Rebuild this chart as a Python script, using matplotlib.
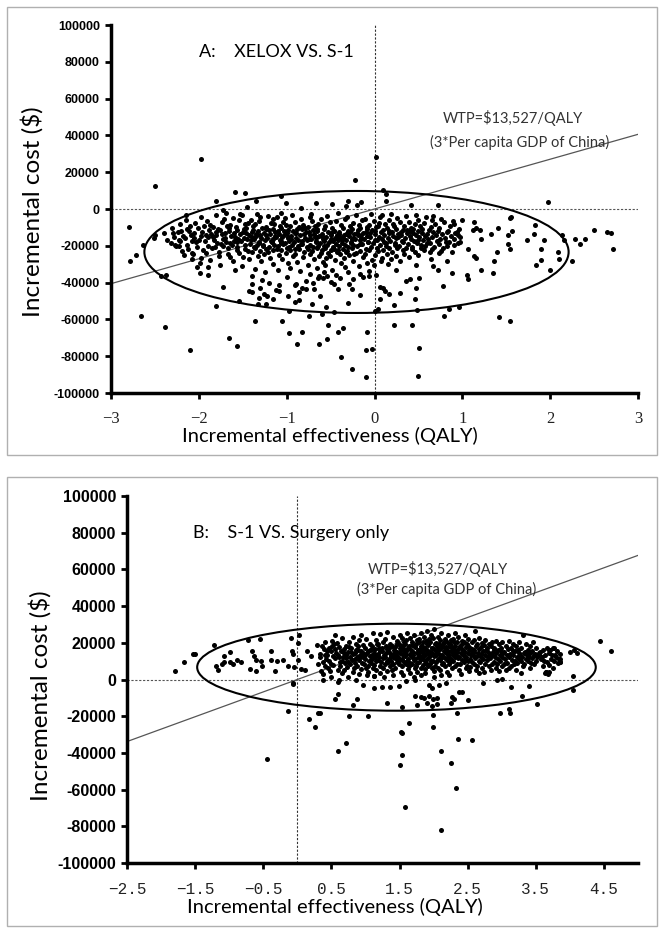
import numpy as np
import matplotlib
matplotlib.use("Agg")
import matplotlib.pyplot as plt
from matplotlib.patches import Ellipse, Rectangle

# ---------------- data (effect in QALY, cost in thousand $) ----------------
WTP = 13527

# panel A: XELOX vs S-1
a_eff = [
    # outliers / sparse points
    -2.50, -0.22, 0.10, 0.13, -1.59, -1.47, 1.97, -1.97, 0.02,
    -2.80, -2.78, -2.72, -2.64, -2.66, -2.38, -2.10, -2.43, -2.37, -1.81,
    -1.66, -1.56, -1.36, -1.05, -0.97, -0.88, -0.83, -0.63, -0.54, -0.53,
    -0.41, -0.36, -0.38, -0.26, -0.10, -0.09, -0.10, -0.03, 0.22, 0.43,
    0.51, 0.49, 0.79, 0.85, 0.96, 1.42, 1.54,
    2.50, 2.65, 2.69, 2.72, 2.40, 2.34, 2.28, 2.25, 2.14, 2.16, 2.09, 2.10,
    2.00, 1.90, 1.89, 1.93, 1.84, 1.82, 1.74, 1.83, 1.54, 1.55, 1.57, 1.52,
    1.52, 1.54, 1.39, 1.36, 1.35, 1.41, 1.33, 1.21, 1.21, 1.20, 1.16, 1.13,
    1.12, 1.13, 1.16, 1.06, 1.05, 1.06, 0.97, 0.95, 0.90, 1.00, 0.88, 0.78,
    0.72, 0.67,
    0.72, 0.42, 0.67, 0.47, 0.13, -0.15, -0.30, -0.48, -0.67, -1.01, -1.07,
    -1.35, -1.80, -2.15, -1.73,
    0.06, 0.10, 0.17, 0.06, 0.04, 0.01, 0.22, 0.29, 0.36, 0.40, 0.46, 0.47,
    0.51, 0.48, -0.17, -0.30, -0.46, -0.55, -0.71, -0.75, -0.60, -0.97, -0.91,
    -0.86, -0.98, -1.16, -1.22, -1.33, -1.31, -1.24, -1.43, -1.40, -1.39,
    -1.30, -1.54, -1.72, -1.09, -1.09, -0.89, -0.82, -0.78, -0.69, -0.63,
    -0.59, -0.46, -0.39, -0.29, -0.26, -0.13, -0.06, -1.99, -1.90, -2.02,
    -2.08, -2.08, -2.23, -2.27, -2.40, -2.51, -2.50, -2.36,
    # dense core, column by column
    -2.31, -2.28, -2.32, -2.29,
    -2.24, -2.26, -2.23,
    -2.21, -2.18, -2.22, -2.19, -2.20,
    -2.14, -2.16, -2.13, -2.17, -2.15,
    -2.11, -2.08, -2.12, -2.09, -2.10,
    -2.04, -2.06, -2.03, -2.07, -2.05,
    -2.01, -1.98, -2.02, -1.99, -2.00, -1.97,
    -1.94, -1.96, -1.93, -1.95, -1.97, -1.92,
    -1.91, -1.88, -1.90, -1.89, -1.92, -1.87, -1.90,
    -1.84, -1.86, -1.83, -1.85, -1.87, -1.84,
    -1.81, -1.78, -1.80, -1.79, -1.82, -1.77, -1.80,
    -1.74, -1.76, -1.73, -1.75, -1.77, -1.74, -1.76,
    -1.71, -1.68, -1.70, -1.69, -1.72, -1.67, -1.70, -1.69,
    -1.64, -1.66, -1.63, -1.65, -1.67, -1.64, -1.66,
    -1.61, -1.58, -1.60, -1.59, -1.62, -1.57, -1.60, -1.61, -1.59,
    -1.54, -1.56, -1.53, -1.55, -1.57, -1.54, -1.56, -1.53,
    -1.51, -1.48, -1.50, -1.49, -1.52, -1.47, -1.50, -1.51, -1.49,
    -1.44, -1.46, -1.43, -1.45, -1.47, -1.44, -1.46, -1.43, -1.45,
    -1.41, -1.38, -1.40, -1.39, -1.42, -1.37, -1.40, -1.41, -1.39, -1.38,
    -1.34, -1.36, -1.33, -1.35, -1.37, -1.34, -1.36, -1.33, -1.35, -1.36,
    -1.31, -1.28, -1.30, -1.29, -1.32, -1.27, -1.30, -1.31, -1.29, -1.28, -1.30,
    -1.24, -1.26, -1.23, -1.25, -1.27, -1.24, -1.26, -1.23, -1.25, -1.26,
    -1.21, -1.18, -1.20, -1.19, -1.22, -1.17, -1.20, -1.21, -1.19, -1.18, -1.20,
    -1.14, -1.16, -1.13, -1.15, -1.17, -1.14, -1.16, -1.13, -1.15, -1.16,
    -1.11, -1.08, -1.10, -1.09, -1.12, -1.07, -1.10, -1.11, -1.09, -1.08, -1.10, -1.12,
    -1.04, -1.06, -1.03, -1.05, -1.07, -1.04, -1.06, -1.03, -1.05, -1.06,
    -1.01, -0.98, -1.00, -0.99, -1.02, -0.97, -1.00, -1.01, -0.99, -0.98, -1.00, -1.02,
    -0.94, -0.96, -0.93, -0.95, -0.97, -0.94, -0.96, -0.93, -0.95, -0.96,
    -0.91, -0.88, -0.90, -0.89, -0.92, -0.87, -0.90, -0.91, -0.89, -0.88, -0.90,
    -0.84, -0.86, -0.83, -0.85, -0.87, -0.84, -0.86, -0.83, -0.85, -0.86, -0.84,
    -0.81, -0.78, -0.80, -0.79, -0.82, -0.77, -0.80, -0.81, -0.79, -0.78,
    -0.74, -0.76, -0.73, -0.75, -0.77, -0.74, -0.76, -0.73, -0.75, -0.76, -0.74,
    -0.71, -0.68, -0.70, -0.69, -0.72, -0.67, -0.70, -0.71, -0.69, -0.68, -0.70, -0.72,
    -0.64, -0.66, -0.63, -0.65, -0.67, -0.64, -0.66, -0.63, -0.65, -0.66, -0.64,
    -0.61, -0.58, -0.60, -0.59, -0.62, -0.57, -0.60, -0.61, -0.59, -0.58, -0.60, -0.62,
    -0.54, -0.56, -0.53, -0.55, -0.57, -0.54, -0.56, -0.53, -0.55, -0.56, -0.54, -0.57,
    -0.51, -0.48, -0.50, -0.49, -0.52, -0.47, -0.50, -0.51, -0.49, -0.48, -0.50,
    -0.44, -0.46, -0.43, -0.45, -0.47, -0.44, -0.46, -0.43, -0.45, -0.46, -0.44,
    -0.41, -0.38, -0.40, -0.39, -0.42, -0.37, -0.40, -0.41, -0.39, -0.38, -0.40, -0.42,
    -0.34, -0.36, -0.33, -0.35, -0.37, -0.34, -0.36, -0.33, -0.35, -0.36, -0.34,
    -0.31, -0.28, -0.30, -0.29, -0.32, -0.27, -0.30, -0.31, -0.29, -0.28, -0.30, -0.32,
    -0.24, -0.26, -0.23, -0.25, -0.27, -0.24, -0.26, -0.23, -0.25, -0.26, -0.24,
    -0.21, -0.18, -0.20, -0.19, -0.22, -0.17, -0.20, -0.21, -0.19, -0.18, -0.20,
    -0.14, -0.16, -0.13, -0.15, -0.17, -0.14, -0.16, -0.13, -0.15, -0.16,
    -0.11, -0.08, -0.10, -0.09, -0.12, -0.07, -0.10, -0.11, -0.09, -0.08,
    -0.04, -0.06, -0.03, -0.05, -0.07, -0.04, -0.06, -0.03, -0.05, -0.06,
    -0.01, 0.02, 0.00, 0.01, -0.02, 0.03, 0.00, -0.01, 0.01, 0.02,
    0.06, 0.04, 0.07, 0.05, 0.03, 0.06, 0.04, 0.07, 0.05,
    0.09, 0.12, 0.10, 0.11, 0.08, 0.13, 0.10, 0.09, 0.11, 0.12,
    0.16, 0.14, 0.17, 0.15, 0.13, 0.16, 0.14, 0.17, 0.15,
    0.19, 0.22, 0.20, 0.21, 0.18, 0.23, 0.20, 0.19, 0.21,
    0.26, 0.24, 0.27, 0.25, 0.23, 0.26, 0.24, 0.27, 0.25,
    0.29, 0.32, 0.30, 0.31, 0.28, 0.33, 0.30, 0.29,
    0.36, 0.34, 0.37, 0.35, 0.33, 0.36, 0.34, 0.37,
    0.39, 0.42, 0.40, 0.41, 0.38, 0.43, 0.40, 0.39,
    0.46, 0.44, 0.47, 0.45, 0.43, 0.46, 0.44, 0.47,
    0.49, 0.52, 0.50, 0.51, 0.48, 0.53, 0.50, 0.49,
    0.56, 0.54, 0.57, 0.55, 0.53, 0.56, 0.54,
    0.59, 0.62, 0.60, 0.61, 0.58, 0.63, 0.60,
    0.66, 0.64, 0.67, 0.65, 0.63, 0.66, 0.64,
    0.69, 0.72, 0.70, 0.71, 0.68, 0.73,
    0.76, 0.74, 0.77, 0.75, 0.73, 0.76,
    0.79, 0.82, 0.80, 0.81, 0.78, 0.83,
    0.86, 0.84, 0.87, 0.85, 0.83,
    0.89, 0.92, 0.90, 0.91, 0.88,
    0.96, 0.94, 0.97, 0.95,
]
a_cost_k = [
    12.3, 15.9, 10.1, 8.3, 9.0, 8.7, 3.8, 27.2, 28.1,
    -9.6, -28.3, -25.1, -19.3, -57.9, -64.4, -76.7, -36.6, -35.6, -52.5,
    -70.0, -74.4, -60.8, -60.8, -67.3, -73.3, -67.0, -73.6, -70.4, -62.8,
    -66.8, -64.8, -80.7, -86.8, -91.3, -66.6, -76.4, -76.2, -63.2, -63.2,
    -75.5, -91.0, -57.9, -54.2, -53.4, -58.7, -60.8,
    -11.6, -12.5, -13.2, -21.5, -16.4, -18.8, -16.1, -28.3, -14.3, -16.8, -23.3, -27.1,
    -32.9, -27.8, -21.8, -17.1, -30.5, -13.5, -17.0, -8.8, -5.1, -4.5, -11.7, -14.3,
    -18.8, -22.0, -23.3, -28.3, -34.8, -10.3, -13.5, -32.9, -16.1, -11.6, -10.3, -7.2,
    -11.6, -25.6, -26.9, -21.5, -35.6, -38.3, -18.1, -14.3, -8.1, -5.8, -34.7, -41.9,
    -32.9, -31.0,
    2.3, 2.3, -4.0, -3.1, 4.2, 3.8, 4.5, 2.9, 3.2, 3.2, 7.2,
    4.5, 4.2, -3.1, -0.4,
    -42.4, -42.8, -46.4, -49.1, -54.5, -55.4, -52.2, -45.5, -39.2, -38.3, -49.1, -42.8,
    -37.7, -55.1, -46.9, -51.3, -56.0, -53.2, -51.8, -58.3, -57.2, -55.4, -50.5,
    -49.6, -47.3, -49.1, -47.3, -51.8, -48.2, -51.8, -44.6, -44.9, -41.0,
    -42.8, -50.0, -42.2, -41.3, -44.6, -41.0, -42.8, -43.3, -43.7, -36.5,
    -37.7, -40.6, -37.7, -41.0, -43.7, -37.0, -36.5, -34.7, -35.6, -31.6,
    -27.4, -23.8, -20.2, -19.3, -13.0, -15.7, -14.3, -17.0,
    # dense core
    -10.4, -15.2, -18.7, -13.1,
    -12.6, -20.3, -16.8,
    -8.3, -14.5, -17.2, -22.6, -11.9,
    -10.7, -15.9, -19.4, -25.2, -6.1,
    -12.2, -17.6, -21.8, -14.0, -9.5,
    -7.8, -13.3, -18.1, -24.5, -15.6,
    -10.1, -14.8, -20.6, -29.3, -16.9, -4.2,
    -9.4, -12.7, -17.5, -22.1, -26.8, -14.3,
    -6.6, -11.2, -15.4, -19.9, -24.0, -8.7, -31.3,
    -9.9, -13.6, -17.0, -21.4, -27.7, -15.1,
    -3.5, -10.8, -14.2, -18.3, -20.9, -25.6, -12.4,
    -7.2, -11.6, -16.3, -19.1, -23.4, -13.8, -30.2,
    -5.3, -9.1, -13.0, -17.8, -20.2, -24.7, -15.5, -2.4,
    -8.6, -12.1, -14.9, -18.5, -21.1, -26.3, -10.2,
    -4.7, -9.8, -12.9, -15.0, -19.6, -22.3, -17.4, -28.5, -33.1,
    -6.2, -11.4, -13.7, -16.5, -20.8, -24.1, -18.2, -2.9,
    -3.1, -8.4, -12.3, -15.7, -17.3, -21.5, -25.9, -30.8, -10.6,
    -7.5, -10.3, -14.4, -16.1, -19.7, -22.8, -13.2, -27.4, 1.2,
    -5.8, -9.2, -12.5, -15.3, -18.9, -20.4, -23.6, -17.1, -36.2, -11.3,
    -2.6, -8.1, -11.7, -14.6, -16.4, -19.3, -21.2, -25.4, -13.5, -32.7,
    -6.4, -10.5, -13.9, -15.6, -17.7, -20.1, -22.9, -18.6, -28.2, -38.4, -4.3,
    -9.6, -12.8, -14.1, -16.7, -19.5, -21.6, -24.3, -11.1, -34.5, -46.2,
    -3.8, -7.4, -11.5, -13.4, -15.8, -18.0, -20.7, -23.2, -26.6, -17.5, -40.3,
    -8.2, -10.9, -14.7, -16.2, -17.9, -19.8, -22.4, -12.6, -30.1, -5.6,
    -4.5, -9.3, -12.0, -13.6, -15.1, -18.4, -20.0, -21.7, -24.8, -16.6, -33.4, -44.1,
    -6.9, -10.2, -14.3, -15.4, -17.2, -19.0, -22.5, -11.8, -27.3, -2.2,
    -8.8, -11.3, -13.2, -16.0, -18.6, -20.5, -21.3, -23.9, -15.2, -29.6, -36.8, -5.1,
    -3.3, -9.0, -12.2, -14.5, -17.4, -19.6, -22.2, -25.5, -16.3, -31.9,
    -7.1, -10.6, -13.3, -15.5, -18.2, -20.3, -21.9, -24.6, -12.9, -28.7, -41.5,
    -5.4, -9.7, -11.0, -14.0, -16.8, -19.2, -22.0, -17.6, -33.8, -45.3, 0.4,
    -8.5, -12.4, -13.8, -15.9, -18.8, -20.6, -23.3, -26.2, -10.4, -38.9,
    -4.1, -10.0, -14.2, -16.4, -17.1, -19.4, -21.5, -24.2, -12.3, -30.4, -35.1,
    -6.7, -9.4, -11.6, -13.5, -16.2, -18.1, -20.8, -22.7, -27.1, -15.3, -40.2, -2.7,
    -8.0, -12.2, -14.6, -15.2, -17.6, -19.9, -21.1, -25.8, -10.7, -32.3, -37.4,
    -5.2, -11.1, -13.6, -16.3, -18.3, -20.2, -22.4, -23.8, -28.6, -34.2, -14.8, -47.5,
    -3.6, -9.5, -12.7, -15.1, -17.5, -19.5, -21.4, -24.0, -26.9, -30.6, -36.3, -16.4,
    -7.3, -10.1, -13.1, -16.1, -18.0, -20.9, -22.2, -25.3, -14.4, -33.0, -39.6,
    -6.3, -11.7, -14.0, -15.8, -17.3, -19.1, -21.6, -23.5, -27.6, -12.1, -35.7,
    -2.3, -8.6, -12.5, -15.4, -16.6, -18.7, -20.3, -22.1, -24.4, -29.2, -13.7, -43.4,
    -5.7, -10.4, -13.4, -14.3, -17.0, -19.7, -21.8, -23.1, -26.5, -16.0, -31.5,
    -4.6, -9.1, -11.9, -14.8, -16.9, -18.5, -20.4, -22.6, -25.1, -12.7, -34.0, 1.5,
    -7.7, -10.8, -13.6, -15.5, -17.8, -19.3, -21.0, -24.7, -28.3, -16.2, -38.0,
    -3.0, -8.9, -12.8, -14.2, -16.5, -18.9, -20.2, -23.7, -11.4, -31.2, 2.1,
    -6.0, -10.3, -13.0, -15.6, -17.0, -19.2, -22.8, -26.1, -14.1, -35.4,
    -5.5, -9.6, -12.3, -14.9, -16.4, -18.2, -21.5, -24.3, -29.5, -11.0,
    -2.5, -8.7, -11.2, -15.3, -17.7, -20.4, -22.3, -27.5, -13.3, -33.6,
    -6.5, -10.0, -13.8, -16.6, -18.4, -21.2, -25.0, -30.3, -12.0, -36.1,
    -4.4, -9.3, -12.6, -15.2, -17.1, -19.5, -23.0, -28.0, -7.6,
    -3.4, -8.2, -11.5, -14.4, -16.3, -20.0, -22.1, -26.4, -18.1, -44.3,
    -6.1, -10.5, -13.2, -15.7, -18.6, -21.4, -24.2, -12.2, -30.0,
    -2.8, -9.0, -12.4, -14.6, -17.2, -19.8, -23.1, -27.2, -8.3,
    -5.0, -10.7, -13.5, -16.0, -18.5, -21.0, -25.3, -15.1, -33.2,
    -7.0, -11.4, -14.3, -17.4, -20.1, -22.5, -12.5, -28.4,
    -4.0, -9.4, -13.1, -15.8, -18.0, -21.3, -24.5, -11.6,
    -6.8, -10.2, -12.1, -16.2, -19.0, -22.0, -14.5, -26.0,
    -8.4, -11.0, -14.1, -17.5, -20.5, -23.4, -13.0, -30.5,
    -5.9, -9.2, -12.0, -15.0, -18.3, -21.1, -16.8, -25.2,
    -7.4, -10.6, -14.5, -17.1, -19.4, -22.2, -12.8,
    -4.3, -11.5, -13.4, -16.5, -20.2, -23.3, -18.4,
    -6.2, -9.8, -12.6, -15.4, -18.7, -21.5, -27.0,
    -8.1, -11.8, -14.0, -17.6, -20.7, -24.1,
    -5.6, -10.4, -13.7, -16.3, -19.2, -22.6,
    -7.2, -12.3, -15.6, -18.1, -21.2, -28.1,
    -9.1, -11.7, -14.8, -17.9, -20.3,
    -6.4, -13.2, -16.4, -19.5, -23.2,
    -10.8, -12.5, -15.3, -18.6,
]

# panel B: S-1 vs surgery only
b_eff = [
    # sparse points below / around zero
    -0.14, -0.45, -0.06, 0.17, 0.26, 0.31, 0.34, 0.60, 0.71, 0.76, 1.04, 0.56,
    0.59, 0.81, 0.87, 1.31, 1.54, 1.52, 1.53, 1.53, 1.50, 1.58, 1.64, 1.99,
    1.99, 2.11, 2.25, 2.33, 2.11, 2.36, 2.57, 2.34, 2.98, 3.10, 3.12, 3.52,
    3.30, 3.13, 3.40, 4.05, 4.05, 1.76, 1.90, 1.98, 2.05, 1.81, 1.86, 1.93,
    1.99, 2.05, 1.93, 1.97, 2.08, 2.25, 2.27, 2.30, 2.38, 2.42, 2.50, 1.73,
    1.72, 1.49, 1.36, 1.24, 1.13, 0.96, 0.86, 0.61, 0.38, 1.12, 1.59, 2.18,
    2.73, 2.93, 3.01, 3.63, 3.70,
    # far right
    4.44, 4.61, 4.06, 4.11, 4.00, 3.85, 3.86, 3.70, 3.75, 3.78, 3.65,
    # left wing
    -1.80, -1.67, -1.53, -1.50, -1.23, -1.19, -1.17, -1.11, -1.08, -0.99, -0.99,
    -1.08, -0.95, -0.89, -0.83, -0.72, -0.67, -0.70, -0.64, -0.61, -0.55, -0.60,
    -0.52, -0.54, -0.39, -0.39, -0.33, -0.30, -0.21, -0.14, -0.09, -0.08, -0.06,
    -0.05, -0.06, 0.03, 0.01, 0.01, 0.06, 0.11, 0.14, 0.20, 0.29, 0.31,
    # dense core
    0.36, 0.34, 0.37, 0.35, 0.33,
    0.41, 0.39, 0.42, 0.40, 0.38, 0.41,
    0.46, 0.44, 0.47, 0.45, 0.43,
    0.51, 0.49, 0.52, 0.50, 0.48, 0.51, 0.49,
    0.56, 0.54, 0.57, 0.55, 0.53, 0.56,
    0.61, 0.59, 0.62, 0.60, 0.58, 0.61, 0.59,
    0.66, 0.64, 0.67, 0.65, 0.63, 0.66,
    0.71, 0.69, 0.72, 0.70, 0.68, 0.71, 0.69,
    0.76, 0.74, 0.77, 0.75, 0.73, 0.76, 0.74,
    0.81, 0.79, 0.82, 0.80, 0.78, 0.81, 0.79,
    0.86, 0.84, 0.87, 0.85, 0.83, 0.86, 0.84,
    0.91, 0.89, 0.92, 0.90, 0.88, 0.91, 0.89, 0.92,
    0.96, 0.94, 0.97, 0.95, 0.93, 0.96, 0.94,
    1.01, 0.99, 1.02, 1.00, 0.98, 1.01, 0.99, 1.02,
    1.06, 1.04, 1.07, 1.05, 1.03, 1.06, 1.04,
    1.11, 1.09, 1.12, 1.10, 1.08, 1.11, 1.09, 1.12, 1.10,
    1.16, 1.14, 1.17, 1.15, 1.13, 1.16, 1.14, 1.17,
    1.21, 1.19, 1.22, 1.20, 1.18, 1.21, 1.19, 1.22, 1.20,
    1.26, 1.24, 1.27, 1.25, 1.23, 1.26, 1.24, 1.27,
    1.31, 1.29, 1.32, 1.30, 1.28, 1.31, 1.29, 1.32, 1.30,
    1.36, 1.34, 1.37, 1.35, 1.33, 1.36, 1.34, 1.37,
    1.41, 1.39, 1.42, 1.40, 1.38, 1.41, 1.39, 1.42, 1.40,
    1.46, 1.44, 1.47, 1.45, 1.43, 1.46, 1.44, 1.47, 1.45,
    1.51, 1.49, 1.52, 1.50, 1.48, 1.51, 1.49, 1.52, 1.50, 1.48,
    1.56, 1.54, 1.57, 1.55, 1.53, 1.56, 1.54, 1.57, 1.55, 1.53,
    1.61, 1.59, 1.62, 1.60, 1.58, 1.61, 1.59, 1.62, 1.60, 1.58,
    1.66, 1.64, 1.67, 1.65, 1.63, 1.66, 1.64, 1.67, 1.65,
    1.71, 1.69, 1.72, 1.70, 1.68, 1.71, 1.69, 1.72, 1.70, 1.68, 1.71,
    1.76, 1.74, 1.77, 1.75, 1.73, 1.76, 1.74, 1.77, 1.75,
    1.81, 1.79, 1.82, 1.80, 1.78, 1.81, 1.79, 1.82, 1.80, 1.78, 1.81,
    1.86, 1.84, 1.87, 1.85, 1.83, 1.86, 1.84, 1.87, 1.85, 1.83,
    1.91, 1.89, 1.92, 1.90, 1.88, 1.91, 1.89, 1.92, 1.90, 1.88, 1.91,
    1.96, 1.94, 1.97, 1.95, 1.93, 1.96, 1.94, 1.97, 1.95, 1.93,
    2.01, 1.99, 2.02, 2.00, 1.98, 2.01, 1.99, 2.02, 2.00, 1.98, 2.01,
    2.06, 2.04, 2.07, 2.05, 2.03, 2.06, 2.04, 2.07, 2.05, 2.03,
    2.11, 2.09, 2.12, 2.10, 2.08, 2.11, 2.09, 2.12, 2.10, 2.08, 2.11,
    2.16, 2.14, 2.17, 2.15, 2.13, 2.16, 2.14, 2.17, 2.15, 2.13,
    2.21, 2.19, 2.22, 2.20, 2.18, 2.21, 2.19, 2.22, 2.20, 2.18, 2.21,
    2.26, 2.24, 2.27, 2.25, 2.23, 2.26, 2.24, 2.27, 2.25, 2.23,
    2.31, 2.29, 2.32, 2.30, 2.28, 2.31, 2.29, 2.32, 2.30, 2.28,
    2.36, 2.34, 2.37, 2.35, 2.33, 2.36, 2.34, 2.37, 2.35,
    2.41, 2.39, 2.42, 2.40, 2.38, 2.41, 2.39, 2.42, 2.40,
    2.46, 2.44, 2.47, 2.45, 2.43, 2.46, 2.44, 2.47, 2.45,
    2.51, 2.49, 2.52, 2.50, 2.48, 2.51, 2.49, 2.52, 2.50,
    2.56, 2.54, 2.57, 2.55, 2.53, 2.56, 2.54, 2.57,
    2.61, 2.59, 2.62, 2.60, 2.58, 2.61, 2.59, 2.62, 2.60,
    2.66, 2.64, 2.67, 2.65, 2.63, 2.66, 2.64, 2.67,
    2.71, 2.69, 2.72, 2.70, 2.68, 2.71, 2.69,
    2.76, 2.74, 2.77, 2.75, 2.73, 2.76, 2.74,
    2.81, 2.79, 2.82, 2.80, 2.78, 2.81, 2.79,
    2.86, 2.84, 2.87, 2.85, 2.83, 2.86, 2.84,
    2.91, 2.89, 2.92, 2.90, 2.88, 2.91, 2.89,
    2.96, 2.94, 2.97, 2.95, 2.93, 2.96,
    3.01, 2.99, 3.02, 3.00, 2.98, 3.01, 2.99,
    3.06, 3.04, 3.07, 3.05, 3.03, 3.06,
    3.11, 3.09, 3.12, 3.10, 3.08, 3.11,
    3.16, 3.14, 3.17, 3.15, 3.13, 3.16,
    3.21, 3.19, 3.22, 3.20, 3.18, 3.21,
    3.26, 3.24, 3.27, 3.25, 3.23, 3.26,
    3.31, 3.29, 3.32, 3.30, 3.28, 3.31, 3.29,
    3.36, 3.34, 3.37, 3.35, 3.33,
    3.41, 3.39, 3.42, 3.40, 3.38, 3.41,
    3.46, 3.44, 3.47, 3.45, 3.43,
    3.51, 3.49, 3.52, 3.50, 3.48,
    3.56, 3.54, 3.57, 3.55,
    3.61, 3.59, 3.62, 3.60,
    3.66, 3.64, 3.67, 3.65,
    3.71, 3.69, 3.72, 3.70, 3.68,
    3.76, 3.74, 3.77, 3.75,
    3.81, 3.79, 3.82,
    3.86, 3.84, 3.85,
]
b_cost_k = [
    -17.1, -43.1, -2.2, -21.3, -25.7, -18.5, -18.0, -38.9, -34.7, -19.8, -19.8, -10.5,
    -7.7, -13.8, -10.6, -12.8, -14.9, -28.4, -29.0, -40.9, -46.8, -69.4, -23.7, -19.1,
    -26.1, -38.9, -45.5, -59.1, -82.2, -32.3, -32.7, -18.0, -18.3, -16.0, -18.3, -13.4,
    -9.2, -4.0, -3.3, -5.5, 1.8, -13.8, -12.8, -14.7, -13.4, -9.5, -9.9, -9.2,
    -10.6, -10.1, -3.1, -4.6, -2.8, -12.8, -9.5, -10.5, -7.0, -6.8, -11.4, -8.8,
    -0.4, -3.3, -4.0, -4.0, -4.6, -2.8, -0.4, -0.4, -0.4, 1.8, -0.9, -1.8,
    -1.8, 0.0, 0.2, 3.3, 4.0,
    20.8, 15.7, 16.2, 14.2, 14.8, 9.5, 11.0, 16.0, 17.0, 13.5, 4.0,
    4.9, 9.5, 13.9, 13.9, 19.0, 7.5, 5.3, 8.6, 9.3, 14.8, 9.3,
    12.6, 8.4, 10.8, 9.3, 21.7, 15.3, 5.7, 12.9, 10.4, 22.1, 4.7,
    7.1, 10.2, 15.7, 10.8, 4.7, 10.2, 10.8, 7.1, 22.6, 15.3, 14.0,
    6.6, -2.0, 24.4, 19.9, 10.8, 5.8, 5.3, 15.3, 12.6, 19.0, 8.4,
    # dense core
    18.4, 14.1, 9.3, 4.6, 12.2,
    20.3, 16.5, 11.2, 7.4, 3.1, 13.6,
    17.2, 13.4, 10.1, 6.3, 15.5,
    21.1, 15.3, 12.6, 8.2, 4.4, 18.5, 1.2,
    24.2, 19.1, 14.7, 11.5, 7.8, 16.4,
    17.6, 13.2, 9.5, 5.3, 20.1, 12.0, -1.3,
    22.4, 15.8, 12.4, 10.2, 7.1, 3.5,
    18.2, 14.5, 11.6, 8.9, 16.7, 13.1, 5.4,
    20.6, 15.1, 12.3, 9.7, 6.6, 17.5, 1.6,
    23.1, 17.3, 13.8, 10.6, 8.3, 4.2, 15.2,
    19.4, 14.2, 12.1, 9.2, 6.1, 16.3, 11.0,
    21.5, 16.1, 13.3, 10.4, 7.6, 3.2, 18.1, 12.5,
    18.7, 15.6, 12.2, 9.1, 5.7, 14.4, 24.3,
    22.2, 17.1, 14.3, 11.4, 8.5, 6.2, 13.1, 2.4,
    19.3, 15.4, 12.7, 10.3, 7.3, 16.2, 4.1,
    25.2, 18.4, 14.6, 11.3, 9.2, 6.5, 13.4, 2.1, 16.6,
    21.3, 16.4, 13.5, 10.2, 8.1, 5.3, 12.2, 19.6,
    24.6, 19.2, 15.3, 12.4, 10.5, 7.2, 14.1, 3.3, 17.4,
    20.4, 17.2, 13.1, 11.6, 9.4, 6.3, 15.5, 1.4,
    25.9, 22.1, 16.5, 14.2, 12.3, 10.1, 8.4, 4.5, 18.3,
    19.5, 15.2, 13.4, 11.1, 9.6, 7.5, 17.3, 12.6,
    23.3, 18.1, 14.4, 12.2, 10.3, 8.6, 5.2, 16.1, 2.5,
    21.2, 17.5, 15.1, 13.2, 11.5, 9.3, 6.4, 19.2, 12.1,
    24.1, 19.6, 16.3, 14.5, 12.5, 10.4, 8.2, 4.3, 17.2, 11.3,
    20.2, 18.3, 15.4, 13.5, 11.2, 9.5, 7.1, 16.5, 2.2, 22.4,
    25.3, 21.4, 17.2, 14.1, 12.6, 10.2, 8.5, 5.6, 15.3, 19.1,
    22.5, 18.2, 16.1, 13.4, 11.3, 9.1, 7.4, 14.6, 3.6,
    24.4, 20.3, 17.5, 15.2, 12.1, 10.6, 8.3, 6.2, 13.3, 18.6, 1.3,
    21.6, 19.3, 16.2, 14.4, 11.4, 9.2, 7.6, 12.5, 4.2,
    25.1, 22.3, 18.4, 15.5, 13.2, 11.1, 9.4, 6.3, 16.4, 20.2, 2.6,
    23.2, 20.5, 17.1, 14.3, 12.4, 10.5, 8.1, 5.5, 15.6, 18.3,
    26.2, 21.1, 18.6, 16.3, 13.5, 11.4, 9.1, 7.2, 14.2, 3.4, 19.5,
    24.3, 20.2, 17.4, 15.1, 12.3, 10.2, 8.6, 6.4, 13.6, 22.1,
    27.3, 22.5, 19.2, 16.5, 14.2, 12.6, 10.3, 7.5, 4.4, 17.3, 1.1,
    23.4, 20.1, 17.6, 15.3, 13.1, 11.2, 9.3, 6.1, 18.5, 14.5,
    25.4, 21.3, 18.2, 16.4, 14.1, 12.2, 10.5, 8.2, 5.3, 19.4, 2.3,
    22.3, 19.1, 17.3, 15.6, 13.3, 11.5, 9.2, 7.3, 20.4, 12.4,
    24.2, 20.6, 18.1, 16.2, 14.6, 12.1, 10.4, 8.5, 4.1, 17.5, 15.2,
    21.4, 19.5, 17.2, 15.4, 13.6, 11.3, 9.5, 6.5, 18.2, 2.5,
    25.5, 22.2, 18.5, 16.1, 14.3, 12.5, 10.1, 7.4, 20.5, 13.2,
    23.1, 20.4, 17.1, 15.2, 13.4, 11.6, 8.4, 5.2, 16.3,
    21.2, 18.3, 16.6, 14.2, 12.2, 10.6, 8.3, 19.6, 3.2,
    24.5, 20.2, 17.5, 15.5, 13.1, 11.4, 9.6, 6.2, 14.4,
    22.1, 19.3, 16.2, 14.6, 12.4, 10.3, 7.2, 4.5, 18.4,
    20.3, 17.4, 15.3, 13.5, 11.1, 9.4, 6.6, 16.5,
    26.4, 21.5, 18.2, 15.1, 13.3, 11.5, 8.6, 5.4, 16.2,
    22.4, 19.2, 16.4, 14.3, 12.6, 10.2, 7.5, 3.3,
    20.1, 17.5, 15.4, 12.2, 9.3, 6.4, 14.1,
    21.3, 18.6, 16.1, 13.3, 11.2, 8.4, 4.3,
    19.2, 17.1, 14.5, 12.5, 10.4, 7.1, 15.3,
    20.4, 18.2, 15.1, 13.2, 11.5, 8.3, 5.1,
    21.1, 17.3, 14.2, 12.4, 9.5, 6.3, 16.4,
    19.5, 16.2, 13.4, 11.1, 8.2, 4.6,
    20.2, 17.4, 14.3, 12.1, 10.2, 7.4, 15.5,
    18.3, 15.2, 13.5, 11.3, 8.5, 5.2,
    21.2, 16.4, 14.1, 12.3, 9.2, 6.5,
    19.1, 17.2, 13.3, 10.4, 7.2, 15.4,
    18.2, 15.5, 12.2, 10.1, 8.4, 5.3,
    20.5, 16.1, 13.2, 11.4, 9.1, 14.3,
    24.1, 17.4, 14.5, 12.2, 10.3, 7.3, 3.5,
    19.3, 15.2, 13.1, 11.2, 8.3,
    18.4, 16.3, 14.2, 12.5, 10.2, 6.1,
    20.2, 15.4, 13.3, 11.5, 9.2,
    17.3, 14.1, 12.4, 10.3, 8.2,
    15.2, 13.1, 11.4, 14.3,
    16.3, 12.2, 10.1, 7.4,
    17.2, 13.4, 9.3, 4.2,
    16.1, 14.3, 11.2, 8.1, 3.1,
    17.4, 13.2, 10.3, 6.2,
    15.3, 12.4, 9.2,
    14.1, 11.2, 9.8,
]

# panel settings
a_xlim, a_xticks = (-3, 3), [-3, -2, -1, 0, 1, 2, 3]
b_xlim, b_xticks = (-2.5, 5), [-2.5, -1.5, -0.5, 0.5, 1.5, 2.5, 3.5, 4.5]
cost_ticks = list(range(-100000, 100001, 20000))

# 95% confidence ellipses (centre x, centre y, full width, full height)
a_ellipse = (-0.205, -23350, 4.83, 66300)
b_ellipse = (1.455, 6700, 5.85, 47400)

W, H = 664, 934
fig = plt.figure(figsize=(W / 100, H / 100), dpi=100)


def fx(px):
    return px / W


def fy(py):
    return 1 - py / H


def draw_panel(ax_box, eff, cost_k, xlim, xticks, ell, tick_font, tick_fs, ylab_fs, xpad):
    ax = fig.add_axes(ax_box)
    eff = np.asarray(eff)
    cost = np.asarray(cost_k) * 1000
    assert len(eff) == len(cost), (len(eff), len(cost))

    ax.axhline(0, color="#555555", lw=0.8, ls=(0, (2, 1.5)), zorder=1)
    ax.axvline(0, color="#333333", lw=0.8, ls=(0, (2, 1.5)), zorder=1)
    xs = np.array(xlim)
    ax.plot(xs, WTP * xs, color="#555555", lw=0.9, zorder=2)
    ax.add_patch(Ellipse(ell[:2], ell[2], ell[3], fill=False, ec="black", lw=1.5, zorder=3))
    ax.scatter(eff, cost, s=13, c="black", linewidths=0, zorder=4)

    ax.set_xlim(*xlim)
    ax.set_ylim(-100000, 100000)
    ax.set_xticks(xticks)
    ax.set_xticklabels([("%g" % t).replace("-", "\u2212") for t in xticks],
                       fontfamily=tick_font, fontsize=tick_fs, color="#222222")
    ax.set_yticks(cost_ticks)
    ax.set_yticklabels([str(t) for t in cost_ticks], fontfamily="Liberation Sans",
                       fontweight="bold", fontsize=ylab_fs)
    for s in ("top", "right"):
        ax.spines[s].set_visible(False)
    for s in ("left", "bottom"):
        ax.spines[s].set_linewidth(2.5)
    ax.tick_params(axis="both", direction="out", length=4, width=2, pad=4)
    ax.tick_params(axis="x", pad=xpad)
    ax.set_facecolor("none")
    return ax


# panel A
fig.add_artist(Rectangle((fx(7), fy(455)), fx(650), 448 / H, transform=fig.transFigure,
                         fill=False, ec="#b0b0b0", lw=1))
draw_panel([fx(111), fy(393), fx(527), 368 / H], a_eff, a_cost_k, a_xlim, a_xticks,
           a_ellipse, "Liberation Serif", 12, 9, 9)
fig.text(fx(199), fy(52), "A:    XELOX VS. S-1", family="Lato", fontsize=13,
         va="center", ha="left")
fig.text(fx(513), fy(118), "WTP=$13,527/QALY", family="Lato", fontsize=10.5,
         color="#333333", ha="center", va="center")
fig.text(fx(520), fy(142), "(3*Per capita GDP of China)", family="Lato", fontsize=10.5,
         color="#333333", ha="center", va="center")
fig.text(fx(32), fy(212), "Incremental cost ($)", family="Lato", fontsize=17.5,
         rotation=90, ha="center", va="center")
fig.text(fx(330), fy(436), "Incremental effectiveness (QALY)", family="Lato",
         fontsize=14.5, ha="center", va="center")

# panel B
fig.add_artist(Rectangle((fx(7), fy(926)), fx(650), 449 / H, transform=fig.transFigure,
                         fill=False, ec="#b0b0b0", lw=1))
draw_panel([fx(127), fy(863), fx(511), 367 / H], b_eff, b_cost_k, b_xlim, b_xticks,
           b_ellipse, "Liberation Mono", 11.5, 11.5, 10)
fig.text(fx(193), fy(533), "B:    S-1 VS. Surgery only", family="Lato", fontsize=13,
         va="center", ha="left")
fig.text(fx(438), fy(569), "WTP=$13,527/QALY", family="Lato", fontsize=10.5,
         color="#333333", ha="center", va="center")
fig.text(fx(447), fy(589), "(3*Per capita GDP of China)", family="Lato", fontsize=10.5,
         color="#333333", ha="center", va="center")
fig.text(fx(40), fy(696), "Incremental cost ($)", family="Lato", fontsize=17.5,
         rotation=90, ha="center", va="center")
fig.text(fx(335), fy(907), "Incremental effectiveness (QALY)", family="Lato",
         fontsize=14.5, ha="center", va="center")

fig.savefig("out.png", dpi=100)
